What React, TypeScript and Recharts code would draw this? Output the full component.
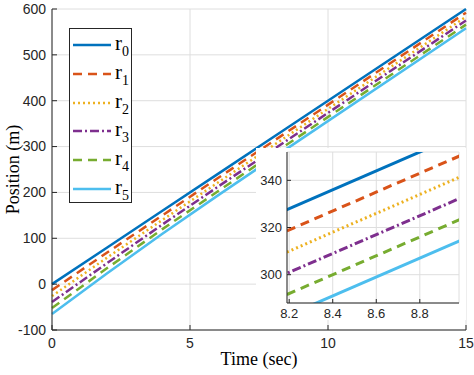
import React from 'react';
import { LineChart, Line, XAxis, YAxis, CartesianGrid, Legend, Label } from 'recharts';

// ---- data ----
const time = [0, 2, 4, 6, 8.5, 15];
const r0 = [0, 80, 160, 240, 340, 600];
const r1 = [-13, 69, 150, 231, 331, 592];
const r2 = [-26, 58, 140, 221, 322, 583];
const r3 = [-39, 46, 130, 212, 313, 575];
const r4 = [-52, 35, 120, 202, 304, 566];
const r5 = [-65, 24, 110, 193, 295, 558];

const insetTime = [8.0, 9.2];
const insetR0 = [320, 368];
const insetR1 = [311, 359];
const insetR2 = [302, 350];
const insetR3 = [293, 341];
const insetR4 = [284, 332];
const insetR5 = [275, 323];

const seriesKeys = ['r0', 'r1', 'r2', 'r3', 'r4', 'r5'];
const seriesSubs = ['0', '1', '2', '3', '4', '5'];
const xTicks = [0, 5, 10, 15];
const yTicks = [-100, 0, 100, 200, 300, 400, 500, 600];
const insetXTicks = [8.2, 8.4, 8.6, 8.8];
const insetYTicks = [300, 320, 340];

// ---- styles ----
const colors = ['#0072BD', '#D95319', '#EDB120', '#7E2F8E', '#77AC30', '#4DBEEE'];
const dashes = ['', '9 6', '2 3', '9 3 2 3', '9 6', ''];
const AX = '#262626';
const GRID = '#dedede';
const SANS = '"Liberation Sans", Arial, sans-serif';
const SERIF = '"Liberation Serif", "Times New Roman", serif';

const mainData = time.map((t, i) => ({
  t,
  r0: r0[i], r1: r1[i], r2: r2[i], r3: r3[i], r4: r4[i], r5: r5[i],
}));
const insetData = insetTime.map((t, i) => ({
  t,
  r0: insetR0[i], r1: insetR1[i], r2: insetR2[i], r3: insetR3[i], r4: insetR4[i], r5: insetR5[i],
}));

const makeBottomTick = (fs: number, dy: number, len: number) => (props: any) => {
  const { x, y, payload } = props;
  return (
    <g>
      <line x1={x} x2={x} y1={y} y2={y - len} stroke={AX} strokeWidth={1} />
      <text x={x} y={y + dy} textAnchor="middle" fontSize={fs} fontFamily={SANS} fill={AX}>
        {payload.value}
      </text>
    </g>
  );
};
const makeLeftTick = (fs: number, gap: number, len: number) => (props: any) => {
  const { x, y, payload } = props;
  return (
    <g>
      <line x1={x} x2={x + len} y1={y} y2={y} stroke={AX} strokeWidth={1} />
      <text x={x - gap} y={y} dy="0.35em" textAnchor="end" fontSize={fs} fontFamily={SANS} fill={AX}>
        {payload.value}
      </text>
    </g>
  );
};
const makeTopTick = (len: number) => (props: any) => {
  const { x, y } = props;
  return <line x1={x} x2={x} y1={y} y2={y + len} stroke={AX} strokeWidth={1} />;
};
const makeRightTick = (len: number) => (props: any) => {
  const { x, y } = props;
  return <line x1={x} x2={x - len} y1={y} y2={y} stroke={AX} strokeWidth={1} />;
};

const LegendBox = () => (
  <div
    style={{
      position: 'absolute',
      left: 69,
      top: 28,
      width: 63,
      height: 175,
      border: `1px solid ${AX}`,
      background: '#fff',
      boxSizing: 'border-box',
    }}
  >
    {seriesKeys.map((k, i) => (
      <svg
        key={k}
        width={61}
        height={28}
        style={{ position: 'absolute', left: 0, top: 2 + i * 28.8 }}
      >
        <line
          x1={3}
          x2={41}
          y1={14}
          y2={14}
          stroke={colors[i]}
          strokeWidth={2.5}
          strokeDasharray={dashes[i] || undefined}
        />
        <text x={45} y={19} fontFamily={SERIF} fontSize={21} fill="#000">
          r
          <tspan fontSize={14} dy={6}>
            {seriesSubs[i]}
          </tspan>
        </text>
      </svg>
    ))}
  </div>
);

export default function App() {
  return (
    <div style={{ position: 'absolute', left: 0, top: 0, width: 474, height: 375, background: '#fff' }}>
      <LineChart
        width={474}
        height={375}
        data={mainData}
        margin={{ top: 9, right: 8, bottom: 0, left: 0 }}
      >
        <CartesianGrid stroke={GRID} strokeWidth={1} />
        <XAxis
          dataKey="t"
          type="number"
          domain={[0, 15]}
          ticks={xTicks}
          height={45}
          tickSize={0}
          tickMargin={0}
          tickLine={false}
          axisLine={{ stroke: AX }}
          tick={makeBottomTick(14, 18, 5)}
          interval={0}
        >
          <Label
            value="Time (sec)"
            position="insideBottom"
            offset={10}
            style={{ fontFamily: SERIF, fontSize: 18, fill: '#000' }}
          />
        </XAxis>
        <XAxis
          xAxisId="top"
          orientation="top"
          type="number"
          domain={[0, 15]}
          ticks={xTicks}
          height={0}
          tickSize={0}
          tickMargin={0}
          tickLine={false}
          axisLine={{ stroke: AX }}
          tick={makeTopTick(5)}
          interval={0}
        />
        <YAxis
          type="number"
          domain={[-100, 600]}
          ticks={yTicks}
          width={52}
          tickSize={0}
          tickMargin={0}
          tickLine={false}
          axisLine={{ stroke: AX }}
          tick={makeLeftTick(14, 6, 5)}
          interval={0}
        >
          <Label
            content={(p: any) => {
              const vb = p.viewBox || {};
              const cy = (vb.y ?? 9) + (vb.height ?? 321) / 2;
              return (
                <text
                  x={19}
                  y={cy}
                  transform={`rotate(-90, 19, ${cy})`}
                  textAnchor="middle"
                  fontFamily={SERIF}
                  fontSize={18}
                  fill="#000"
                >
                  Position (m)
                </text>
              );
            }}
          />
        </YAxis>
        <YAxis
          yAxisId="right"
          orientation="right"
          type="number"
          domain={[-100, 600]}
          ticks={yTicks}
          width={0}
          tickSize={0}
          tickMargin={0}
          tickLine={false}
          axisLine={{ stroke: AX }}
          tick={makeRightTick(5)}
          interval={0}
        />
        {seriesKeys.map((k, i) => (
          <Line
            key={k}
            dataKey={k}
            type="linear"
            stroke={colors[i]}
            strokeWidth={2.5}
            strokeDasharray={dashes[i] || undefined}
            dot={false}
            activeDot={false}
            isAnimationActive={false}
          />
        ))}
        <Legend content={() => <LegendBox />} wrapperStyle={{ position: 'absolute', left: 0, top: 0, width: 0, height: 0 }} layout="vertical" align="center" verticalAlign="middle" />
      </LineChart>

      <div
        style={{
          position: 'absolute',
          left: 256,
          top: 148,
          width: 210,
          height: 172,
          background: '#fff',
        }}
      >
        <LineChart
          width={210}
          height={172}
          data={insetData}
          margin={{ top: 4, right: 7, bottom: 0, left: 0 }}
        >
          <CartesianGrid stroke={GRID} strokeWidth={1} />
          <XAxis
            dataKey="t"
            type="number"
            domain={[8.19, 8.98]}
            allowDataOverflow
            ticks={insetXTicks}
            height={17}
            tickSize={0}
            tickMargin={0}
            tickLine={false}
            axisLine={{ stroke: AX }}
            tick={makeBottomTick(13, 15, 4)}
            interval={0}
          />
          <XAxis
            xAxisId="top"
            orientation="top"
            type="number"
            domain={[8.19, 8.98]}
            allowDataOverflow
            ticks={insetXTicks}
            height={0}
            tickSize={0}
            tickMargin={0}
            tickLine={false}
            axisLine={{ stroke: AX }}
            tick={makeTopTick(4)}
            interval={0}
          />
          <YAxis
            type="number"
            domain={[288, 352]}
            allowDataOverflow
            ticks={insetYTicks}
            width={31}
            tickSize={0}
            tickMargin={0}
            tickLine={false}
            axisLine={{ stroke: AX }}
            tick={makeLeftTick(13, 5, 4)}
            interval={0}
          />
          <YAxis
            yAxisId="right"
            orientation="right"
            type="number"
            domain={[288, 352]}
            allowDataOverflow
            ticks={insetYTicks}
            width={0}
            tickSize={0}
            tickMargin={0}
            tickLine={false}
            axisLine={{ stroke: AX }}
            tick={makeRightTick(4)}
            interval={0}
          />
          {seriesKeys.map((k, i) => (
            <Line
              key={k}
              dataKey={k}
              type="linear"
              stroke={colors[i]}
              strokeWidth={3}
              strokeDasharray={dashes[i] || undefined}
              dot={false}
              activeDot={false}
              isAnimationActive={false}
            />
          ))}
        </LineChart>
      </div>
    </div>
  );
}
